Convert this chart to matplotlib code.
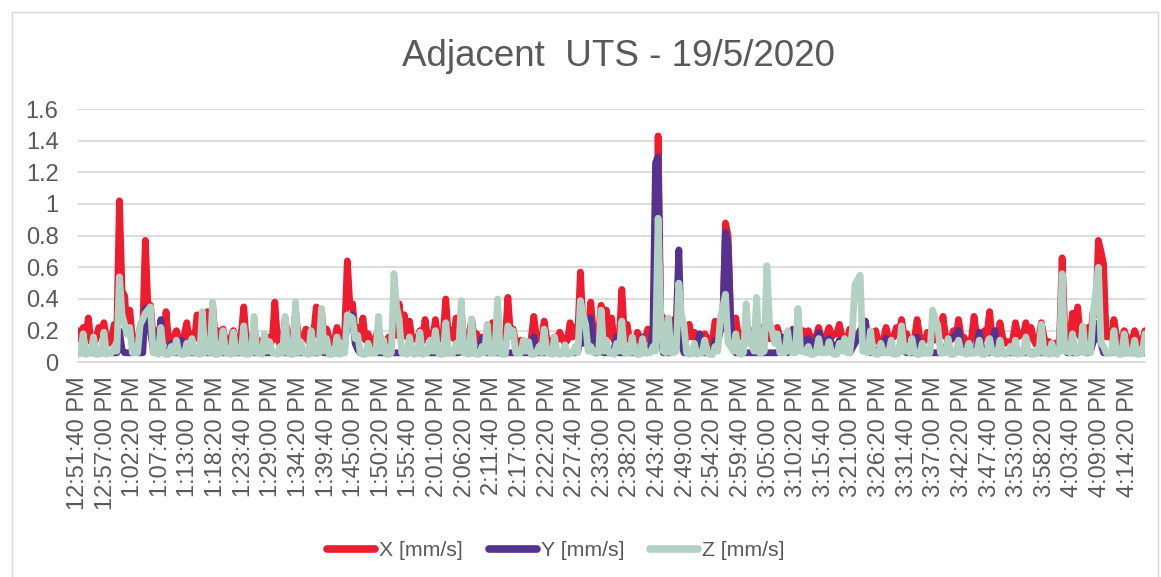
import matplotlib
matplotlib.use('Agg')
import matplotlib.pyplot as plt
from matplotlib.patches import Rectangle

plt.rc('font', family='Liberation Sans')

# 每分钟一个读数 (x_vals...)，加上两个读数之间的 30 s 读数 (x_mid...)，从 12:51:40 PM 开始
step_s = 60

tick_labels = ['12:51:40 PM', '12:57:00 PM', '1:02:20 PM', '1:07:40 PM', '1:13:00 PM', '1:18:20 PM',
               '1:23:40 PM', '1:29:00 PM', '1:34:20 PM', '1:39:40 PM', '1:45:00 PM', '1:50:20 PM',
               '1:55:40 PM', '2:01:00 PM', '2:06:20 PM', '2:11:40 PM', '2:17:00 PM', '2:22:20 PM',
               '2:27:40 PM', '2:33:00 PM', '2:38:20 PM', '2:43:40 PM', '2:49:00 PM', '2:54:20 PM',
               '2:59:40 PM', '3:05:00 PM', '3:10:20 PM', '3:15:40 PM', '3:21:00 PM', '3:26:20 PM',
               '3:31:40 PM', '3:37:00 PM', '3:42:20 PM', '3:47:40 PM', '3:53:00 PM', '3:58:20 PM',
               '4:03:40 PM', '4:09:00 PM', '4:14:20 PM']
tick_step_s = 320

x_vals = [0.20, 0.22, 0.28, 0.11, 0.22, 0.25, 0.12, 0.24, 1.02, 0.42,
          0.33, 0.15, 0.22, 0.77, 0.36, 0.20, 0.12, 0.32, 0.11, 0.20,
          0.12, 0.25, 0.18, 0.30, 0.15, 0.32, 0.36, 0.20, 0.21, 0.11,
          0.20, 0.12, 0.35, 0.11, 0.20, 0.11, 0.16, 0.11, 0.38, 0.11,
          0.27, 0.18, 0.32, 0.15, 0.21, 0.20, 0.35, 0.33, 0.21, 0.12,
          0.22, 0.18, 0.64, 0.37, 0.22, 0.28, 0.18, 0.11, 0.21, 0.12,
          0.16, 0.20, 0.37, 0.30, 0.26, 0.15, 0.20, 0.27, 0.18, 0.27,
          0.16, 0.40, 0.20, 0.28, 0.32, 0.15, 0.27, 0.18, 0.16, 0.11,
          0.25, 0.20, 0.12, 0.41, 0.21, 0.11, 0.12, 0.11, 0.29, 0.15,
          0.26, 0.11, 0.16, 0.19, 0.12, 0.25, 0.22, 0.57, 0.25, 0.38,
          0.22, 0.36, 0.33, 0.28, 0.11, 0.46, 0.24, 0.12, 0.19, 0.11,
          0.21, 0.22, 1.43, 0.28, 0.18, 0.27, 0.30, 0.15, 0.24, 0.19,
          0.11, 0.18, 0.12, 0.26, 0.20, 0.88, 0.30, 0.28, 0.18, 0.27,
          0.20, 0.16, 0.22, 0.18, 0.15, 0.22, 0.12, 0.18, 0.21, 0.12,
          0.20, 0.20, 0.15, 0.22, 0.16, 0.22, 0.18, 0.24, 0.15, 0.21,
          0.18, 0.20, 0.26, 0.12, 0.20, 0.11, 0.22, 0.15, 0.22, 0.27,
          0.18, 0.11, 0.27, 0.12, 0.19, 0.15, 0.20, 0.29, 0.15, 0.20,
          0.27, 0.16, 0.11, 0.29, 0.12, 0.20, 0.32, 0.11, 0.25, 0.12,
          0.11, 0.25, 0.18, 0.25, 0.22, 0.11, 0.25, 0.12, 0.11, 0.12,
          0.66, 0.12, 0.31, 0.35, 0.18, 0.22, 0.32, 0.77, 0.62, 0.18,
          0.27, 0.12, 0.20, 0.11, 0.20, 0.12, 0.20]

x_mid = [0.14, 0.16, 0.13, 0.15, 0.17, 0.14, 0.16, 0.20, 0.45, 0.18,
         0.15, 0.13, 0.20, 0.35, 0.16, 0.14, 0.15, 0.13, 0.16, 0.14,
         0.17, 0.13, 0.15, 0.14, 0.16, 0.18, 0.14, 0.16, 0.13, 0.15,
         0.14, 0.17, 0.13, 0.15, 0.14, 0.13, 0.16, 0.14, 0.15, 0.13,
         0.16, 0.14, 0.17, 0.15, 0.13, 0.18, 0.16, 0.14, 0.15, 0.13,
         0.16, 0.20, 0.35, 0.18, 0.15, 0.14, 0.13, 0.16, 0.14, 0.13,
         0.15, 0.17, 0.18, 0.16, 0.14, 0.15, 0.13, 0.16, 0.15, 0.14,
         0.17, 0.16, 0.15, 0.18, 0.14, 0.16, 0.15, 0.13, 0.14, 0.13,
         0.16, 0.14, 0.15, 0.17, 0.13, 0.14, 0.12, 0.15, 0.16, 0.14,
         0.15, 0.13, 0.14, 0.15, 0.14, 0.16, 0.18, 0.22, 0.20, 0.18,
         0.17, 0.18, 0.16, 0.14, 0.15, 0.16, 0.14, 0.13, 0.15, 0.14,
         0.16, 0.30, 0.30, 0.16, 0.17, 0.18, 0.16, 0.15, 0.16, 0.14,
         0.13, 0.15, 0.14, 0.17, 0.25, 0.80, 0.18, 0.16, 0.15, 0.16,
         0.14, 0.15, 0.14, 0.15, 0.13, 0.16, 0.14, 0.16, 0.15, 0.14,
         0.16, 0.15, 0.16, 0.15, 0.17, 0.16, 0.18, 0.16, 0.15, 0.16,
         0.15, 0.17, 0.16, 0.14, 0.13, 0.14, 0.15, 0.16, 0.18, 0.16,
         0.13, 0.15, 0.16, 0.14, 0.15, 0.14, 0.17, 0.16, 0.14, 0.15,
         0.16, 0.13, 0.15, 0.16, 0.14, 0.18, 0.15, 0.14, 0.16, 0.13,
         0.15, 0.16, 0.17, 0.16, 0.14, 0.15, 0.16, 0.13, 0.12, 0.14,
         0.20, 0.15, 0.18, 0.16, 0.15, 0.17, 0.30, 0.70, 0.16, 0.15,
         0.16, 0.14, 0.15, 0.14, 0.15, 0.14]

y_vals = [0.06, 0.06, 0.06, 0.06, 0.06, 0.06, 0.06, 0.06, 0.20, 0.06,
          0.06, 0.12, 0.06, 0.34, 0.20, 0.06, 0.27, 0.06, 0.12, 0.06,
          0.14, 0.06, 0.06, 0.06, 0.06, 0.06, 0.06, 0.06, 0.06, 0.06,
          0.06, 0.06, 0.06, 0.06, 0.06, 0.06, 0.06, 0.06, 0.06, 0.06,
          0.06, 0.12, 0.06, 0.06, 0.06, 0.06, 0.06, 0.12, 0.06, 0.06,
          0.06, 0.06, 0.28, 0.30, 0.08, 0.06, 0.06, 0.06, 0.06, 0.06,
          0.06, 0.06, 0.06, 0.06, 0.12, 0.06, 0.06, 0.06, 0.06, 0.06,
          0.06, 0.06, 0.06, 0.06, 0.14, 0.06, 0.06, 0.06, 0.15, 0.06,
          0.06, 0.06, 0.06, 0.06, 0.06, 0.06, 0.06, 0.06, 0.16, 0.06,
          0.06, 0.06, 0.06, 0.06, 0.06, 0.06, 0.06, 0.15, 0.20, 0.28,
          0.06, 0.16, 0.06, 0.06, 0.16, 0.06, 0.06, 0.06, 0.06, 0.16,
          0.06, 0.20, 1.30, 0.06, 0.06, 0.15, 0.71, 0.06, 0.06, 0.06,
          0.18, 0.06, 0.06, 0.14, 0.20, 0.82, 0.25, 0.06, 0.06, 0.06,
          0.06, 0.06, 0.06, 0.06, 0.06, 0.06, 0.16, 0.06, 0.20, 0.08,
          0.12, 0.15, 0.10, 0.19, 0.12, 0.15, 0.08, 0.14, 0.10, 0.06,
          0.12, 0.20, 0.26, 0.06, 0.08, 0.06, 0.15, 0.06, 0.06, 0.12,
          0.06, 0.06, 0.16, 0.06, 0.06, 0.06, 0.06, 0.06, 0.14, 0.16,
          0.20, 0.06, 0.06, 0.06, 0.19, 0.06, 0.06, 0.20, 0.06, 0.06,
          0.06, 0.06, 0.06, 0.06, 0.06, 0.06, 0.06, 0.06, 0.06, 0.06,
          0.20, 0.06, 0.06, 0.06, 0.12, 0.06, 0.13, 0.25, 0.06, 0.06,
          0.12, 0.06, 0.06, 0.06, 0.06, 0.06, 0.06]

y_mid = [0.06, 0.06, 0.06, 0.06, 0.06, 0.06, 0.06, 0.06, 0.08, 0.06,
         0.06, 0.06, 0.06, 0.25, 0.08, 0.10, 0.06, 0.06, 0.06, 0.06,
         0.06, 0.06, 0.06, 0.06, 0.06, 0.06, 0.06, 0.06, 0.06, 0.06,
         0.06, 0.06, 0.06, 0.06, 0.06, 0.06, 0.06, 0.06, 0.06, 0.06,
         0.06, 0.06, 0.06, 0.06, 0.06, 0.06, 0.06, 0.06, 0.06, 0.06,
         0.06, 0.10, 0.29, 0.12, 0.06, 0.06, 0.06, 0.06, 0.06, 0.06,
         0.06, 0.06, 0.06, 0.06, 0.06, 0.06, 0.06, 0.06, 0.06, 0.06,
         0.06, 0.06, 0.06, 0.06, 0.06, 0.06, 0.06, 0.06, 0.06, 0.06,
         0.06, 0.06, 0.06, 0.06, 0.06, 0.06, 0.06, 0.06, 0.06, 0.06,
         0.06, 0.06, 0.06, 0.06, 0.06, 0.06, 0.07, 0.12, 0.24, 0.10,
         0.06, 0.06, 0.06, 0.08, 0.06, 0.06, 0.06, 0.06, 0.07, 0.06,
         0.08, 1.26, 0.20, 0.06, 0.06, 0.25, 0.12, 0.06, 0.06, 0.08,
         0.06, 0.06, 0.06, 0.12, 0.30, 0.75, 0.10, 0.06, 0.06, 0.06,
         0.06, 0.06, 0.06, 0.06, 0.06, 0.08, 0.08, 0.10, 0.12, 0.10,
         0.14, 0.12, 0.14, 0.15, 0.13, 0.12, 0.10, 0.12, 0.08, 0.09,
         0.15, 0.22, 0.12, 0.07, 0.06, 0.08, 0.07, 0.06, 0.08, 0.07,
         0.06, 0.08, 0.07, 0.06, 0.06, 0.06, 0.06, 0.08, 0.15, 0.17,
         0.10, 0.06, 0.06, 0.10, 0.08, 0.06, 0.10, 0.08, 0.06, 0.06,
         0.06, 0.06, 0.06, 0.06, 0.06, 0.06, 0.06, 0.06, 0.06, 0.10,
         0.08, 0.06, 0.06, 0.07, 0.06, 0.07, 0.15, 0.12, 0.06, 0.06,
         0.06, 0.06, 0.06, 0.06, 0.06, 0.06]

z_vals = [0.05, 0.18, 0.06, 0.16, 0.05, 0.19, 0.06, 0.10, 0.54, 0.24,
          0.22, 0.07, 0.24, 0.31, 0.35, 0.06, 0.22, 0.05, 0.10, 0.14,
          0.05, 0.12, 0.15, 0.06, 0.32, 0.10, 0.38, 0.05, 0.20, 0.06,
          0.19, 0.07, 0.23, 0.05, 0.29, 0.06, 0.18, 0.13, 0.06, 0.10,
          0.29, 0.05, 0.38, 0.13, 0.06, 0.20, 0.07, 0.34, 0.15, 0.05,
          0.16, 0.06, 0.30, 0.28, 0.17, 0.05, 0.12, 0.06, 0.29, 0.14,
          0.05, 0.56, 0.27, 0.06, 0.16, 0.05, 0.19, 0.08, 0.14, 0.20,
          0.05, 0.25, 0.06, 0.12, 0.39, 0.06, 0.27, 0.05, 0.10, 0.24,
          0.06, 0.40, 0.05, 0.23, 0.20, 0.06, 0.14, 0.13, 0.05, 0.10,
          0.21, 0.06, 0.16, 0.05, 0.11, 0.06, 0.10, 0.39, 0.24, 0.10,
          0.07, 0.33, 0.14, 0.06, 0.12, 0.26, 0.06, 0.16, 0.05, 0.15,
          0.06, 0.10, 0.91, 0.07, 0.28, 0.06, 0.50, 0.23, 0.05, 0.12,
          0.06, 0.14, 0.05, 0.10, 0.27, 0.43, 0.10, 0.18, 0.05, 0.37,
          0.12, 0.41, 0.06, 0.61, 0.20, 0.18, 0.06, 0.20, 0.06, 0.34,
          0.07, 0.10, 0.05, 0.15, 0.06, 0.13, 0.05, 0.12, 0.15, 0.06,
          0.49, 0.55, 0.07, 0.20, 0.05, 0.12, 0.06, 0.14, 0.05, 0.23,
          0.10, 0.15, 0.05, 0.12, 0.06, 0.33, 0.23, 0.06, 0.15, 0.05,
          0.14, 0.07, 0.12, 0.06, 0.14, 0.05, 0.15, 0.06, 0.14, 0.05,
          0.10, 0.14, 0.06, 0.16, 0.05, 0.08, 0.24, 0.06, 0.12, 0.05,
          0.56, 0.07, 0.18, 0.06, 0.23, 0.07, 0.31, 0.60, 0.10, 0.06,
          0.20, 0.05, 0.18, 0.06, 0.14, 0.05, 0.18]

z_mid = [0.06, 0.05, 0.06, 0.05, 0.06, 0.05, 0.06, 0.07, 0.30, 0.18,
         0.06, 0.06, 0.27, 0.33, 0.06, 0.05, 0.06, 0.05, 0.06, 0.06,
         0.05, 0.06, 0.06, 0.05, 0.06, 0.06, 0.05, 0.06, 0.06, 0.05,
         0.06, 0.06, 0.05, 0.06, 0.06, 0.05, 0.07, 0.06, 0.05, 0.06,
         0.06, 0.05, 0.06, 0.06, 0.05, 0.06, 0.06, 0.07, 0.05, 0.06,
         0.05, 0.06, 0.29, 0.15, 0.06, 0.05, 0.06, 0.06, 0.07, 0.05,
         0.06, 0.35, 0.06, 0.05, 0.06, 0.06, 0.05, 0.06, 0.07, 0.06,
         0.05, 0.06, 0.06, 0.07, 0.06, 0.05, 0.06, 0.05, 0.06, 0.06,
         0.06, 0.06, 0.05, 0.20, 0.06, 0.06, 0.07, 0.05, 0.06, 0.06,
         0.06, 0.05, 0.06, 0.06, 0.05, 0.06, 0.06, 0.30, 0.07, 0.06,
         0.06, 0.07, 0.06, 0.05, 0.07, 0.06, 0.06, 0.06, 0.05, 0.06,
         0.06, 0.07, 0.30, 0.06, 0.06, 0.07, 0.30, 0.06, 0.06, 0.05,
         0.06, 0.06, 0.05, 0.07, 0.35, 0.12, 0.07, 0.06, 0.06, 0.12,
         0.07, 0.06, 0.07, 0.25, 0.12, 0.06, 0.06, 0.07, 0.06, 0.07,
         0.06, 0.05, 0.06, 0.06, 0.06, 0.06, 0.05, 0.07, 0.06, 0.20,
         0.52, 0.07, 0.06, 0.06, 0.05, 0.06, 0.06, 0.05, 0.06, 0.07,
         0.06, 0.06, 0.05, 0.06, 0.06, 0.28, 0.06, 0.06, 0.05, 0.06,
         0.06, 0.05, 0.06, 0.06, 0.05, 0.06, 0.06, 0.05, 0.06, 0.06,
         0.06, 0.05, 0.06, 0.06, 0.05, 0.06, 0.06, 0.05, 0.06, 0.07,
         0.07, 0.06, 0.06, 0.07, 0.06, 0.06, 0.45, 0.12, 0.06, 0.06,
         0.06, 0.05, 0.06, 0.06, 0.05, 0.06]


def merge(main, mid):
    # 把整分钟读数和中间读数按时间顺序排好
    out = []
    for k in range(len(main) - 1):
        out.append(main[k])
        out.append(mid[k])
    out.append(main[-1])
    return out


x_all = merge(x_vals, x_mid)
y_all = merge(y_vals, y_mid)
z_all = merge(z_vals, z_mid)
t = [k * step_s / 2 for k in range(len(x_all))]
tick_pos = [i * tick_step_s for i in range(len(tick_labels))]

text_color = '#595959'
grid_color = '#D9D9D9'
LW = 4.9

fig = plt.figure(figsize=(11.61, 5.77), dpi=100)
ax = fig.add_axes([78 / 1161, 1 - 362.3 / 577, (1145 - 78) / 1161, (362.3 - 109) / 577])

ax.plot(t, x_all, color='#ED1C2E', lw=LW, solid_joinstyle='round', solid_capstyle='round', label='X [mm/s]', zorder=3)
ax.plot(t, y_all, color='#55328F', lw=LW, solid_joinstyle='round', solid_capstyle='round', label='Y [mm/s]', zorder=4)
ax.plot(t, z_all, color='#B3D1C3', lw=LW, solid_joinstyle='round', solid_capstyle='round', label='Z [mm/s]', zorder=5)

ax.set_xlim(0, t[-1])
ax.set_ylim(0, 1.6)
ax.set_yticks([0, 0.2, 0.4, 0.6, 0.8, 1, 1.2, 1.4, 1.6])
ax.set_yticklabels(['0', '0.2', '0.4', '0.6', '0.8', '1', '1.2', '1.4', '1.6'])
ax.set_xticks(tick_pos)
ax.set_xticklabels(tick_labels, rotation=90)
ax.tick_params(axis='both', length=0, labelsize=17, labelcolor=text_color)
ax.tick_params(axis='y', pad=14)
ax.tick_params(axis='x', pad=10)

ax.yaxis.grid(True, color=grid_color, lw=1.3, zorder=0)
ax.set_axisbelow(True)
for s in ['top', 'right', 'left']:
    ax.spines[s].set_visible(False)
ax.spines['bottom'].set_color(grid_color)
ax.spines['bottom'].set_linewidth(1.3)

fig.text(618 / 1161, 1 - 57 / 577, 'Adjacent  UTS - 19/5/2020', ha='center', va='center',
         fontsize=26.5, color=text_color)

leg = fig.legend(loc='center', bbox_to_anchor=(556 / 1161, 1 - 551 / 577), ncol=3, frameon=False,
                 fontsize=15.3, handlelength=2.26, handletextpad=0.2, columnspacing=1.2)
for txt in leg.get_texts():
    txt.set_color(text_color)
for line in leg.get_lines():
    line.set_linewidth(5.5)

# 外边框
fig.patches.append(Rectangle((12 / 1161, -0.01), 1146 / 1161, 1 - 12 / 577 + 0.01, transform=fig.transFigure,
                             fill=False, edgecolor=grid_color, lw=1.0))

fig.savefig('out.png', dpi=100, facecolor='white')
